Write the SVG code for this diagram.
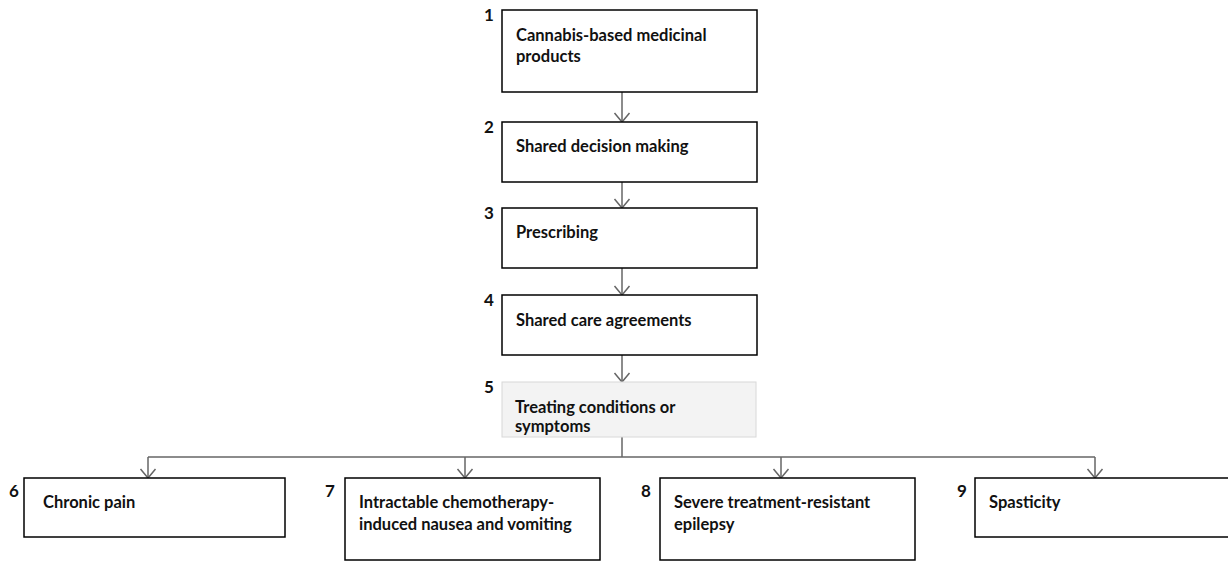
<svg xmlns="http://www.w3.org/2000/svg" width="1228" height="561" viewBox="0 0 1228 561">
<defs>
<style>
.box{fill:#fff;stroke:#000;stroke-width:1.5}
.box5{fill:#f3f3f3;stroke:#d8d8d8;stroke-width:1}
.t{font-family:Lato,"Liberation Sans",sans-serif;font-weight:700;font-size:16.5px;fill:#111}
.n{font-family:Lato,"Liberation Sans",sans-serif;font-weight:700;font-size:17px;fill:#111}
.c{fill:none;stroke:#666;stroke-width:1.5}
</style>
<marker id="ah" viewBox="0 0 20 20" refX="10" refY="10" markerWidth="20" markerHeight="20" markerUnits="userSpaceOnUse" orient="auto">
<path d="M1,2.5 L10,10 L1,17.5" fill="none" stroke="#666" stroke-width="1.5"/>
</marker>
</defs>
<rect width="1228" height="561" fill="#fff"/>
<g id="connectors">
<line class="c" x1="622" y1="92" x2="622" y2="122" marker-end="url(#ah)"/>
<line class="c" x1="622" y1="182" x2="622" y2="208" marker-end="url(#ah)"/>
<line class="c" x1="622" y1="268" x2="622" y2="295" marker-end="url(#ah)"/>
<line class="c" x1="622" y1="355" x2="622" y2="382" marker-end="url(#ah)"/>
<polyline class="c" points="622,437 622,457"/>
<polyline class="c" points="148,457 1095,457"/>
<line class="c" x1="148" y1="457" x2="148" y2="478" marker-end="url(#ah)"/>
<line class="c" x1="465" y1="457" x2="465" y2="478" marker-end="url(#ah)"/>
<line class="c" x1="781" y1="457" x2="781" y2="478" marker-end="url(#ah)"/>
<line class="c" x1="1095" y1="457" x2="1095" y2="478" marker-end="url(#ah)"/>
</g>
<g id="node1">
<rect class="box" x="502" y="10" width="255" height="82"/>
<text class="n" x="484" y="21">1</text>
<text class="t" x="516" y="41">Cannabis-based medicinal</text>
<text class="t" x="516" y="62">products</text>
</g>
<g id="node2">
<rect class="box" x="502" y="122" width="255" height="60"/>
<text class="n" x="484" y="133">2</text>
<text class="t" x="516" y="152">Shared decision making</text>
</g>
<g id="node3">
<rect class="box" x="502" y="208" width="255" height="60"/>
<text class="n" x="484" y="219">3</text>
<text class="t" x="516" y="238">Prescribing</text>
</g>
<g id="node4">
<rect class="box" x="502" y="295" width="255" height="60"/>
<text class="n" x="484" y="306">4</text>
<text class="t" x="516" y="326">Shared care agreements</text>
</g>
<g id="node5">
<rect class="box5" x="502" y="382" width="254" height="55"/>
<text class="n" x="484" y="393">5</text>
<text class="t" x="515" y="413">Treating conditions or</text>
<text class="t" x="515" y="432">symptoms</text>
</g>
<g id="node6">
<rect class="box" x="24" y="478" width="261" height="59"/>
<text class="n" x="9" y="497">6</text>
<text class="t" x="43" y="508">Chronic pain</text>
</g>
<g id="node7">
<rect class="box" x="345" y="478" width="255" height="82"/>
<text class="n" x="325" y="497">7</text>
<text class="t" x="359" y="508">Intractable chemotherapy-</text>
<text class="t" x="359" y="530">induced nausea and vomiting</text>
</g>
<g id="node8">
<rect class="box" x="660" y="478" width="255" height="82"/>
<text class="n" x="641" y="497">8</text>
<text class="t" x="674" y="508">Severe treatment-resistant</text>
<text class="t" x="674" y="530">epilepsy</text>
</g>
<g id="node9">
<rect class="box" x="975" y="478" width="260" height="59"/>
<text class="n" x="957" y="497">9</text>
<text class="t" x="989" y="508">Spasticity</text>
</g>
</svg>
